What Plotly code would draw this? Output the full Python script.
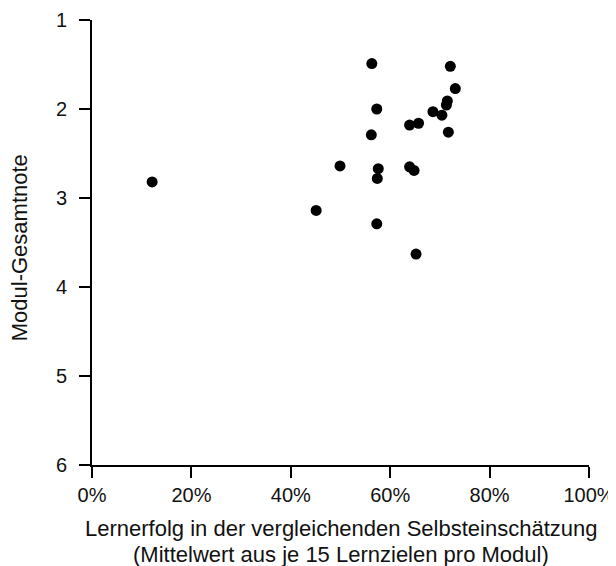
import plotly.graph_objects as go

# Lernerfolg (%) and Modul-Gesamtnote per module
lernerfolg = [12.1, 56.3, 72.1, 73.1, 57.3, 71.5, 71.3, 68.6, 70.4, 56.2, 63.9,
              65.7, 71.7, 49.9, 57.6, 57.4, 63.9, 64.8, 45.1, 57.3, 65.2]
gesamtnote = [2.82, 1.49, 1.52, 1.77, 2.00, 1.91, 1.955, 2.03, 2.07, 2.29, 2.18,
              2.16, 2.26, 2.64, 2.67, 2.78, 2.65, 2.69, 3.14, 3.29, 3.63]

x_ticks = [0, 20, 40, 60, 80, 100]
x_tick_labels = ["0%", "20%", "40%", "60%", "80%", "100%"]
y_ticks = [1, 2, 3, 4, 5, 6]

x_title_1 = "Lernerfolg in der vergleichenden Selbsteinschätzung"
x_title_2 = "(Mittelwert aus je 15 Lernzielen pro Modul)"
y_title = "Modul-Gesamtnote"

font_family = "Liberation Sans, Arial, sans-serif"

fig = go.Figure()
fig.add_trace(go.Scatter(
    x=lernerfolg, y=gesamtnote, mode="markers",
    marker=dict(size=11, color="black"),
    cliponaxis=False, showlegend=False,
))

axis_common = dict(
    showgrid=False, zeroline=False, showline=True, linecolor="black",
    linewidth=1.8, ticks="outside", ticklen=11, tickwidth=1.8,
    tickcolor="black", automargin=False,
)

fig.update_layout(
    width=616, height=566,
    margin=dict(l=83.5, r=35, t=12, b=109),
    paper_bgcolor="white", plot_bgcolor="white",
    font=dict(family=font_family, size=20, color="#111"),
    xaxis=dict(range=[0, 100], tickvals=x_ticks, ticktext=x_tick_labels,
               ticklabelstandoff=0, **axis_common),
    yaxis=dict(range=[6, 1], tickvals=y_ticks, ticklabelstandoff=8,
               **axis_common),
    annotations=[
        dict(text=x_title_1, xref="paper", yref="paper", x=0.5, y=-0.1438,
             xanchor="center", yanchor="middle", showarrow=False,
             font=dict(size=22)),
        dict(text=x_title_2, xref="paper", yref="paper", x=0.5, y=-0.2012,
             xanchor="center", yanchor="middle", showarrow=False,
             font=dict(size=22)),
        dict(text=y_title, textangle=-90, xref="paper", yref="paper",
             x=-0.146, y=0.488, xanchor="center", yanchor="middle",
             showarrow=False, font=dict(size=22)),
    ],
)

fig.write_html("out.html")
